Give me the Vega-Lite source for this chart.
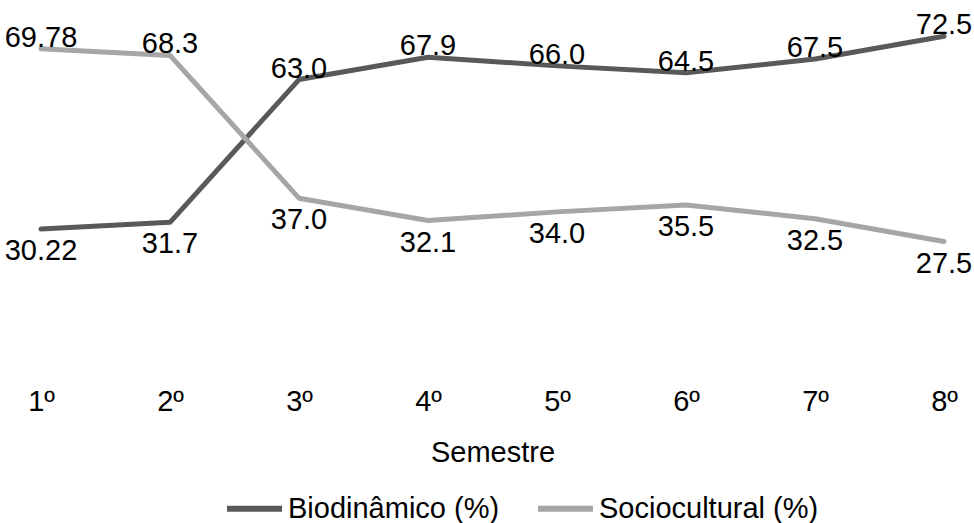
{
  "$schema": "https://vega.github.io/schema/vega-lite/v6.json",
  "width": 974,
  "height": 365,
  "autosize": {"type": "none"},
  "padding": {"left": 0, "top": 2, "right": 0, "bottom": 156},
  "background": "white",
  "config": {"view": {"stroke": null}, "font": "Liberation Sans"},
  "data": {
    "values": [
      {"semestre": "1º", "serie": "Biodinâmico (%)", "valor": 30.22, "rotulo": "30.22"},
      {"semestre": "2º", "serie": "Biodinâmico (%)", "valor": 31.7, "rotulo": "31.7"},
      {"semestre": "3º", "serie": "Biodinâmico (%)", "valor": 63.0, "rotulo": "63.0"},
      {"semestre": "4º", "serie": "Biodinâmico (%)", "valor": 67.9, "rotulo": "67.9"},
      {"semestre": "5º", "serie": "Biodinâmico (%)", "valor": 66.0, "rotulo": "66.0"},
      {"semestre": "6º", "serie": "Biodinâmico (%)", "valor": 64.5, "rotulo": "64.5"},
      {"semestre": "7º", "serie": "Biodinâmico (%)", "valor": 67.5, "rotulo": "67.5"},
      {"semestre": "8º", "serie": "Biodinâmico (%)", "valor": 72.5, "rotulo": "72.5"},
      {"semestre": "1º", "serie": "Sociocultural (%)", "valor": 69.78, "rotulo": "69.78"},
      {"semestre": "2º", "serie": "Sociocultural (%)", "valor": 68.3, "rotulo": "68.3"},
      {"semestre": "3º", "serie": "Sociocultural (%)", "valor": 37.0, "rotulo": "37.0"},
      {"semestre": "4º", "serie": "Sociocultural (%)", "valor": 32.1, "rotulo": "32.1"},
      {"semestre": "5º", "serie": "Sociocultural (%)", "valor": 34.0, "rotulo": "34.0"},
      {"semestre": "6º", "serie": "Sociocultural (%)", "valor": 35.5, "rotulo": "35.5"},
      {"semestre": "7º", "serie": "Sociocultural (%)", "valor": 32.5, "rotulo": "32.5"},
      {"semestre": "8º", "serie": "Sociocultural (%)", "valor": 27.5, "rotulo": "27.5"}
    ]
  },
  "encoding": {
    "x": {
      "field": "semestre",
      "type": "ordinal",
      "sort": ["1º", "2º", "3º", "4º", "5º", "6º", "7º", "8º"],
      "scale": {"type": "point", "range": [41, 944], "padding": 0},
      "axis": {
        "title": "Semestre",
        "domain": false,
        "ticks": false,
        "tickSize": 0,
        "grid": false,
        "labelAngle": 0,
        "labelFont": "Liberation Sans",
        "labelFontSize": 29,
        "labelColor": "black",
        "labelPadding": 20,
        "titleFont": "Liberation Sans",
        "titleFontSize": 29,
        "titleFontWeight": "normal",
        "titleColor": "black",
        "titlePadding": 22
      }
    },
    "y": {
      "field": "valor",
      "type": "quantitative",
      "scale": {"domain": [0, 80]},
      "axis": null
    }
  },
  "layer": [
    {
      "mark": {"type": "line", "strokeWidth": 5, "strokeJoin": "round", "strokeCap": "round"},
      "encoding": {
        "color": {
          "field": "serie",
          "type": "nominal",
          "scale": {"domain": ["Biodinâmico (%)", "Sociocultural (%)"], "range": ["#595959", "#a6a6a6"]},
          "legend": {
            "orient": "none",
            "legendX": 224,
            "legendY": 476,
            "direction": "horizontal",
            "title": null,
            "symbolType": "stroke",
            "symbolSize": 3025,
            "symbolStrokeWidth": 6,
            "labelFont": "Liberation Sans",
            "labelFontSize": 29,
            "labelColor": "black",
            "labelOffset": 3,
            "labelLimit": 400,
            "columnPadding": 26
          }
        }
      }
    },
    {
      "transform": [
        {"joinaggregate": [{"op": "max", "field": "valor", "as": "mx"}], "groupby": ["semestre"]},
        {"filter": "datum.valor == datum.mx"}
      ],
      "mark": {"type": "text", "baseline": "alphabetic", "dy": -2, "fontSize": 29, "font": "Liberation Sans", "color": "black"},
      "encoding": {"text": {"field": "rotulo", "type": "nominal"}}
    },
    {
      "transform": [
        {"joinaggregate": [{"op": "max", "field": "valor", "as": "mx"}], "groupby": ["semestre"]},
        {"filter": "datum.valor < datum.mx"}
      ],
      "mark": {"type": "text", "baseline": "top", "dy": 8, "fontSize": 29, "font": "Liberation Sans", "color": "black"},
      "encoding": {"text": {"field": "rotulo", "type": "nominal"}}
    }
  ]
}
